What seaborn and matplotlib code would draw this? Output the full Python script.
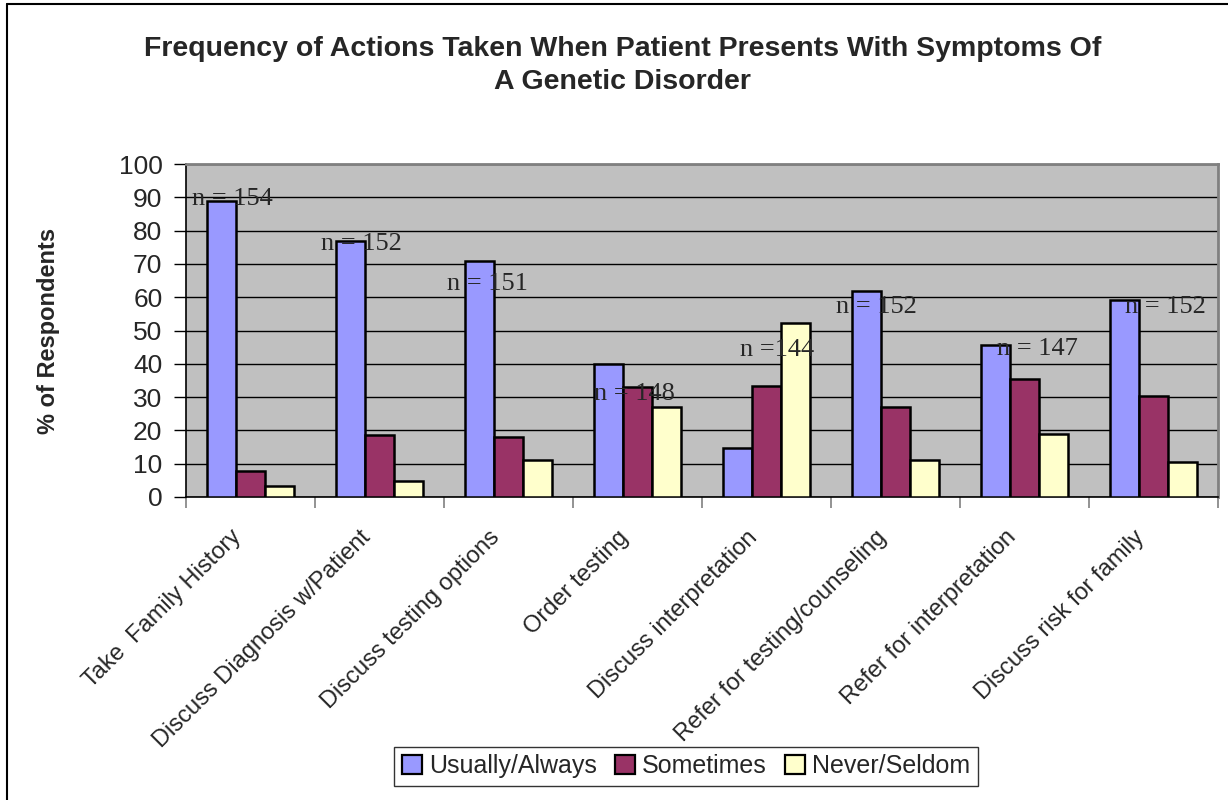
import pandas as pd
import seaborn as sns
import matplotlib.pyplot as plt
from matplotlib.lines import Line2D
from matplotlib.transforms import ScaledTranslation

# data
actions = ['Take  Family History', 'Discuss Diagnosis w/Patient', 'Discuss testing options',
           'Order testing', 'Discuss interpretation', 'Refer for testing/counseling',
           'Refer for interpretation', 'Discuss risk for family']
usually_always = [89, 77, 71, 40, 14.7, 62, 45.6, 59.2]
sometimes = [7.9, 18.5, 18, 33, 33.4, 27, 35.4, 30.3]
never_seldom = [3.4, 4.7, 11.2, 27, 52.2, 11.2, 19, 10.5]
n_labels = ['n = 154', 'n = 152', 'n = 151', 'n = 148', 'n =144', 'n = 152', 'n = 147', 'n = 152']

series = ['Usually/Always', 'Sometimes', 'Never/Seldom']
colors = ['#9999FF', '#993366', '#FFFFCC']

# where the n labels sit (category offset, y value)
n_pos = [(-0.14, 89.5), (-0.14, 76), (-0.16, 64), (-0.02, 31),
         (0.08, 44), (-0.15, 57), (0.1, 44.4), (0.09, 57)]

df = pd.DataFrame({'action': actions, series[0]: usually_always,
                   series[1]: sometimes, series[2]: never_seldom})
long_df = df.melt(id_vars='action', var_name='freq', value_name='pct')

sns.set_style('white')
plt.rcParams['font.family'] = ['Liberation Sans', 'DejaVu Sans']

fig = plt.figure(figsize=(12.28, 8), dpi=100)
ax = fig.add_axes([186 / 1228, 1 - 497 / 800, 1032 / 1228, 333 / 800])

sns.barplot(data=long_df, x='action', y='pct', hue='freq', hue_order=series,
            palette=colors, width=0.67, gap=0, edgecolor='black', linewidth=1.8,
            saturation=1, ax=ax, legend=False, zorder=3)

ax.set_facecolor('#C0C0C0')
ax.set_ylim(0, 100)
ax.set_xlim(-0.5, len(actions) - 0.5)
ax.set_yticks(range(0, 101, 10))
ax.grid(axis='y', color='black', linewidth=1, zorder=0)
ax.set_axisbelow(True)
ax.tick_params(axis='y', labelsize=19, length=9, width=1, color='black', pad=8, left=True)

# x ticks between categories, labels at centres
ax.set_xticks(range(len(actions)))
ax.set_xticklabels(actions, rotation=45, ha='right', va='top', rotation_mode='anchor', fontsize=17)
ax.tick_params(axis='x', length=0, pad=21)
shift = ScaledTranslation(-20 / 100, 0, fig.dpi_scale_trans)
for lab in ax.get_xticklabels():
    lab.set_transform(lab.get_transform() + shift)
ax.set_xticks([i - 0.5 for i in range(len(actions) + 1)], minor=True)
ax.tick_params(axis='x', which='minor', length=8, width=1.2, color='#808080', bottom=True)

for s in ['top', 'right']:
    ax.spines[s].set_color('#808080')
    ax.spines[s].set_linewidth(2)
for s in ['left', 'bottom']:
    ax.spines[s].set_color('black')
    ax.spines[s].set_linewidth(1.2)

ax.set_xlabel('')
ax.set_ylabel('% of Respondents', fontsize=17, fontweight='bold')
ax.yaxis.set_label_coords((60 - 186) / 1032, 0.5)

for i, (lab, (dx, y)) in enumerate(zip(n_labels, n_pos)):
    ax.text(i + dx, y, lab, ha='center', va='center', fontsize=19,
            family='Liberation Serif', zorder=5)

fig.text(0.507, 0.955, 'Frequency of Actions Taken When Patient Presents With Symptoms Of\nA Genetic Disorder',
         ha='center', va='top', fontsize=20.5, fontweight='bold', linespacing=1.33)

handles = [plt.Rectangle((0, 0), 1, 1, facecolor=c, edgecolor='black', linewidth=1.6) for c in colors]
leg = fig.legend(handles, series, loc='center', bbox_to_anchor=(686 / 1228, 1 - 766 / 800),
                 ncol=3, fontsize=18, frameon=True, fancybox=False, edgecolor='black',
                 handlelength=0.8, handleheight=0.8, handletextpad=0.3, columnspacing=0.7,
                 borderpad=0.3, borderaxespad=0)
leg.get_frame().set_linewidth(1)

# outer chart border (top and left visible)
fig.add_artist(Line2D([7 / 1228, 7 / 1228], [0, 1 - 4 / 800], transform=fig.transFigure, color='black', linewidth=1.5))
fig.add_artist(Line2D([7 / 1228, 1], [1 - 4 / 800, 1 - 4 / 800], transform=fig.transFigure, color='black', linewidth=1.5))

fig.savefig('out.png', dpi=100)
